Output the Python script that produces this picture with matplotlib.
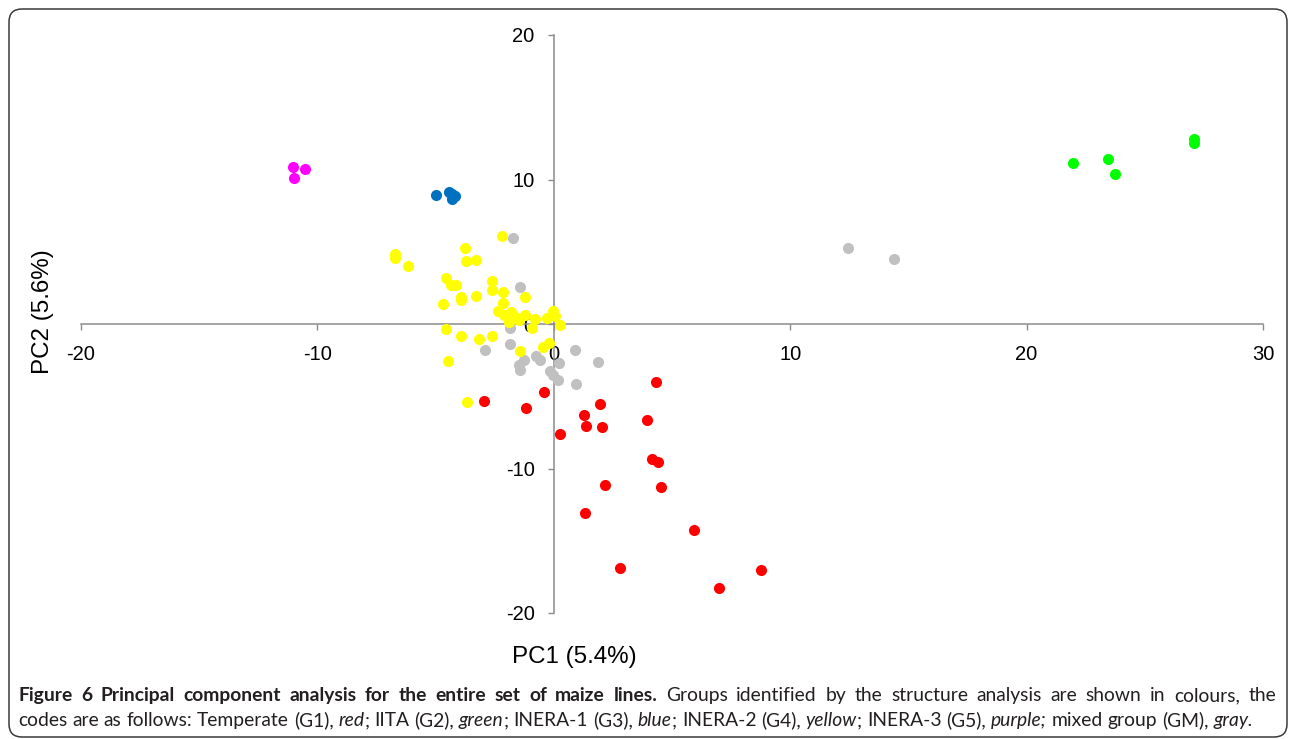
import matplotlib
matplotlib.use("Agg")
import matplotlib.pyplot as plt
from matplotlib.patches import FancyBboxPatch
from matplotlib.transforms import IdentityTransform

plt.rcParams['axes.unicode_minus'] = False

# ---- data (PC1, PC2) ----
gray_x = [-1.73, -1.43, -1.87, -1.87, -2.90, -1.25, -1.46, -1.42, -0.74, -0.57,
          0.20, 0.90, 1.87, -0.18, -0.03, 0.16, 0.96, 12.46, 14.39]
gray_y = [5.92, 2.55, -0.26, -1.35, -1.83, -2.46, -2.85, -3.20, -2.18, -2.51,
          -2.69, -1.81, -2.64, -3.27, -3.56, -3.91, -4.17, 5.29, 4.48]

yellow_x = [-2.18, -6.73, -6.70, -6.17, -3.77, -3.70, -3.28, -4.58, -4.35, -4.14,
            -2.60, -2.60, -2.15, -1.21, -3.91, -3.91, -3.27, -4.69, -2.15, -2.35,
            -2.12, -1.81, -1.46, -1.21, -0.80, -0.91, -0.29, -0.03, 0.06, 0.25,
            -4.58, -3.91, -3.15, -2.63, -1.45, -0.46, -0.22, -4.49, -3.67, -1.63,
            -1.88]
yellow_y = [6.12, 4.81, 4.58, 4.00, 5.27, 4.33, 4.46, 3.15, 2.73, 2.69,
            3.01, 2.34, 2.23, 1.88, 1.88, 1.65, 1.95, 1.35, 1.42, 0.89,
            0.59, 0.84, 0.31, 0.61, 0.38, -0.26, 0.43, 0.87, 0.57, -0.08,
            -0.33, -0.84, -1.02, -0.82, -1.90, -1.56, -1.30, -2.53, -5.38, 0.45,
            0.17]

red_x = [-2.94, -1.16, -0.40, 0.27, 1.28, 1.35, 1.97, 2.04, 4.34, 3.94,
         4.15, 4.39, 2.18, 4.52, 1.32, 5.91, 2.78, 8.76, 7.00]
red_y = [-5.34, -5.80, -4.69, -7.63, -6.31, -7.04, -5.57, -7.14, -4.03, -6.66,
         -9.31, -9.56, -11.11, -11.31, -13.09, -14.27, -16.92, -16.99, -18.24]

blue_x = [-4.98, -4.45, -4.31, -4.17, -4.30]
blue_y = [8.91, 9.12, 8.62, 8.84, 9.00]

purple_x = [-11.05, -10.51, -11.00]
purple_y = [10.85, 10.74, 10.12]

green_x = [21.98, 23.46, 23.72, 27.09, 27.09]
green_y = [11.13, 11.45, 10.35, 12.77, 12.56]

xticks = [-20, -10, 0, 10, 20, 30]
yticks = [-20, -10, 0, 10, 20]
xlabel = "PC1 (5.4%)"
ylabel = "PC2 (5.6%)"

W, H = 1292, 739
fig = plt.figure(figsize=(W / 100, H / 100), dpi=100)
ax = fig.add_axes([81 / W, 1 - 613 / H, (1263 - 81) / W, (613 - 35) / H])
ax.set_xlim(-20, 30)
ax.set_ylim(-20, 20)
ax.patch.set_alpha(0)

for s in ['top', 'right']:
    ax.spines[s].set_visible(False)
for s in ['left', 'bottom']:
    ax.spines[s].set_position(('data', 0))
    ax.spines[s].set_color('#8c8c8c')
    ax.spines[s].set_linewidth(1.1)

ax.set_xticks(xticks)
ax.set_yticks(yticks)
ax.set_xticklabels([str(t) for t in xticks])
ax.set_yticklabels([str(t) for t in yticks])
ax.tick_params(axis='both', direction='out', length=4.3, width=1.0,
               color='#8c8c8c', labelsize=14.5, labelcolor='black')
ax.tick_params(axis='x', pad=10.5)
ax.tick_params(axis='y', pad=9.5)
for lab in ax.get_xticklabels() + ax.get_yticklabels():
    lab.set_fontfamily('Liberation Sans')

ms = 64
ax.scatter(gray_x, gray_y, s=ms, color='#c0c0c0', linewidths=0, zorder=3)
ax.scatter(yellow_x, yellow_y, s=ms, color='#ffff00', linewidths=0, zorder=4)
ax.scatter(red_x, red_y, s=ms, color='#ff0000', linewidths=0, zorder=4)
ax.scatter(blue_x, blue_y, s=ms, color='#0070c0', linewidths=0, zorder=4)
ax.scatter(purple_x, purple_y, s=ms, color='#ff00ff', linewidths=0, zorder=4)
ax.scatter(green_x, green_y, s=ms, color='#00ff00', linewidths=0, zorder=4)

fig.text(574 / W, 1 - 657 / H, xlabel, ha='center', va='center',
         fontsize=17.4, family='Liberation Sans')
fig.text(42.5 / W, 1 - 312 / H, ylabel, ha='center', va='center',
         rotation=90, fontsize=17.4, family='Liberation Sans')

# rounded frame
box = FancyBboxPatch((9, 2), 1278, 728, boxstyle="round,pad=0,rounding_size=13",
                     transform=IdentityTransform(), fill=False,
                     edgecolor='#3a3a3a', linewidth=1.1)
fig.patches.append(box)

# caption (line 1 justified, line 2 left-aligned)
cap_font = 'Lato'
line1 = [("Figure 6 Principal component analysis for the entire set of maize lines.", 'bold', 'normal'),
         (" Groups identified by the structure analysis are shown in colours, the", 'normal', 'normal')]
line2 = [("codes are as follows: Temperate (G1), ", 'normal', 'normal'),
         ("red", 'normal', 'italic'), ("; IITA (G2), ", 'normal', 'normal'),
         ("green", 'normal', 'italic'), ("; INERA-1 (G3), ", 'normal', 'normal'),
         ("blue", 'normal', 'italic'), ("; INERA-2 (G4), ", 'normal', 'normal'),
         ("yellow", 'normal', 'italic'), ("; INERA-3 (G5), ", 'normal', 'normal'),
         ("purple;", 'normal', 'italic'), (" mixed group (GM), ", 'normal', 'normal'),
         ("gray.", 'normal', 'italic')]

cap_color = '#231f20'


def tokenize(segs):
    toks = []
    pending = False
    for s, wgt, sty in segs:
        words = s.split(' ')
        for i, wd in enumerate(words):
            if i > 0:
                pending = True
            if wd:
                t = fig.text(0, 0, wd, fontsize=10, fontweight=wgt, fontstyle=sty,
                             family=cap_font, color=cap_color, va='baseline',
                             ha='left', transform=IdentityTransform())
                toks.append([t, pending and len(toks) > 0])
                pending = False
    return toks


rows = [tokenize(line1), tokenize(line2)]
probe = fig.text(0, 0, "", fontsize=10, family=cap_font, transform=IdentityTransform())

x0 = 18.0
targets = [1258.0, None]
baselines = [H - 701, H - 726]


def layout(fs):
    for row in rows:
        for t, _ in row:
            t.set_fontsize(fs)
    probe.set_fontsize(fs)
    fig.canvas.draw()
    r = fig.canvas.get_renderer()
    probe.set_text("a a")
    w1 = probe.get_window_extent(r).width
    probe.set_text("aa")
    w2 = probe.get_window_extent(r).width
    probe.set_text("")
    sp = w1 - w2
    natural = []
    for row, yb, tgt in zip(rows, baselines, targets):
        widths = [t.get_window_extent(r).width for t, _ in row]
        ngap = sum(1 for _, g in row if g)
        nat = sum(widths) + ngap * sp
        natural.append(nat)
        gap = sp
        if tgt is not None and ngap > 0:
            gap = (tgt - sum(widths)) / ngap
        x = x0
        for (t, g), wdt in zip(row, widths):
            if g:
                x += gap
            t.set_position((x, yb))
            x += wdt
    return natural


nat = layout(10)
fs = 10 * 1235.0 / nat[1]
layout(fs)

fig.savefig("out.png", dpi=100)
